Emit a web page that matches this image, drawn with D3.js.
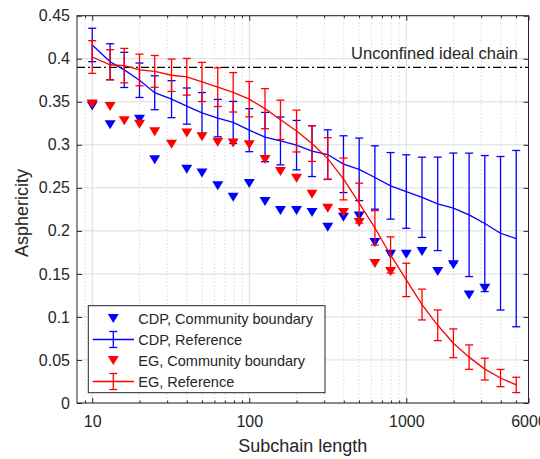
<!DOCTYPE html>
<html>
<head>
<meta charset="utf-8">
<script src="https://cdn.jsdelivr.net/npm/d3@7"></script>
<style>
  body { margin: 0; background: #fff; }
  text { font-family: "Liberation Sans", Arial, sans-serif; fill: #262626; }
</style>
</head>
<body>
<div id="svg-area"></div>
<script>
// subchain lengths (x) shared by all series
var lengths = [10, 13, 16, 20, 25, 32, 40, 50, 63, 79, 100, 126, 158, 200, 251, 316, 398, 501, 631, 794,
  1000, 1259, 1585, 1995, 2512, 3162, 3981, 5012];

// CDP reference: mean + half error bar
var cdpRef = [0.416, 0.3965, 0.387, 0.375, 0.3605, 0.353, 0.345, 0.337, 0.331, 0.326, 0.317, 0.309, 0.3045, 0.2996,
  0.2926, 0.2887, 0.2775, 0.2715, 0.262, 0.2523, 0.2457, 0.239, 0.2314, 0.2264, 0.2186, 0.2085, 0.1972, 0.191];
var cdpErr = [0.0194, 0.0209, 0.0204, 0.020, 0.0197, 0.0215, 0.021, 0.0237, 0.0217, 0.0244, 0.025, 0.0286, 0.0278, 0.0287,
  0.0295, 0.0287, 0.033, 0.0363, 0.0368, 0.0387, 0.0427, 0.0466, 0.0543, 0.064, 0.0717, 0.079, 0.0892, 0.1024];

// EG reference
var egRef = [0.402, 0.393, 0.392, 0.387, 0.3853, 0.3808, 0.379, 0.373, 0.367, 0.361, 0.353, 0.342, 0.329, 0.316,
  0.3015, 0.284, 0.2603, 0.2322, 0.2035, 0.172, 0.143, 0.1144, 0.0903, 0.0694, 0.0533, 0.0394, 0.029, 0.021];
var egErr = [0.019, 0.0175, 0.020, 0.0184, 0.0185, 0.0188, 0.0213, 0.0227, 0.0225, 0.0229, 0.0205, 0.0233, 0.0229, 0.0243,
  0.0208, 0.0243, 0.0243, 0.0232, 0.020, 0.021, 0.0194, 0.0179, 0.0178, 0.0167, 0.0142, 0.0127, 0.010, 0.0089];

// community boundary points (null = no point)
var cdpBoundary = [0.345, 0.3233, null, 0.3297, 0.2826, null, 0.2717, 0.2671, 0.2523, 0.2392, 0.255, 0.234, 0.2236, 0.2236,
  0.2213, 0.2043, 0.2159, 0.2174, 0.1865, 0.1727, 0.1727, 0.176, 0.1527, 0.1605, 0.1256, 0.1333, null, null];
var egBoundary = [0.3474, 0.3445, 0.328, 0.3238, 0.3151, 0.3006, 0.3136, 0.3093, 0.3029, 0.302, 0.300, 0.283, 0.269, 0.2612,
  0.2426, 0.2264, 0.2213, 0.2097, 0.162, 0.1527, null, null, null, null, null, null, null, null];

var idealChain = 0.39;

var xTicks = [10, 100, 1000, 6000];
var xMinorTicks = [9, 20, 30, 40, 50, 60, 70, 80, 90, 200, 300, 400, 500, 600, 700, 800, 900, 2000, 3000, 4000, 5000];
var yTicks = [0, 0.05, 0.1, 0.15, 0.2, 0.25, 0.3, 0.35, 0.4, 0.45];
var yTickLabels = ["0", "0.05", "0.1", "0.15", "0.2", "0.25", "0.3", "0.35", "0.4", "0.45"];

var legendLabels = ["CDP, Community boundary", "CDP, Reference", "EG, Community boundary", "EG, Reference"];

var svgWidth = 540;
var svgHeight = 459;

var margin = {
  top: 15.7,
  right: 11.5,
  bottom: 56,
  left: 77
};

var width = svgWidth - margin.left - margin.right;
var height = svgHeight - margin.top - margin.bottom;

var svg = d3.select("#svg-area")
  .append("svg")
  .attr("width", svgWidth)
  .attr("height", svgHeight);

var chartGroup = svg.append("g")
  .attr("transform", `translate(${margin.left}, ${margin.top})`);

// scales
var xScale = d3.scaleLog().domain([8, 6000]).range([0, width]);
var yScale = d3.scaleLinear().domain([0, 0.45]).range([height, 0]);

// grid
chartGroup.append("g")
  .selectAll("line")
  .data(xMinorTicks)
  .join("line")
  .attr("x1", d => xScale(d)).attr("x2", d => xScale(d))
  .attr("y1", 0).attr("y2", height)
  .attr("stroke", "#bdbdbd")
  .attr("stroke-width", 0.8)
  .attr("stroke-dasharray", "1,2.5");

chartGroup.append("g")
  .selectAll("line")
  .data(xTicks)
  .join("line")
  .attr("x1", d => xScale(d)).attr("x2", d => xScale(d))
  .attr("y1", 0).attr("y2", height)
  .attr("stroke", "#dcdcdc")
  .attr("stroke-width", 1);

chartGroup.append("g")
  .selectAll("line")
  .data(yTicks)
  .join("line")
  .attr("x1", 0).attr("x2", width)
  .attr("y1", d => yScale(d)).attr("y2", d => yScale(d))
  .attr("stroke", "#dcdcdc")
  .attr("stroke-width", 1);

// axes (ticks pointing inward, mirrored on top/right)
var bottomAxis = d3.axisBottom(xScale).tickValues(xTicks).tickSizeInner(-5).tickSizeOuter(0)
  .tickPadding(12.5).tickFormat(d3.format("d"));
var bottomMinor = d3.axisBottom(xScale).tickValues(xMinorTicks).tickSizeInner(-2.5).tickSizeOuter(0).tickFormat("");
var topAxis = d3.axisTop(xScale).tickValues(xTicks).tickSizeInner(-5).tickSizeOuter(0).tickFormat("");
var topMinor = d3.axisTop(xScale).tickValues(xMinorTicks).tickSizeInner(-2.5).tickSizeOuter(0).tickFormat("");
var leftAxis = d3.axisLeft(yScale).tickValues(yTicks).tickSizeInner(-5).tickSizeOuter(0)
  .tickPadding(7).tickFormat((d, i) => yTickLabels[i]);
var rightAxis = d3.axisRight(yScale).tickValues(yTicks).tickSizeInner(-5).tickSizeOuter(0).tickFormat("");

function styleAxis(g) {
  g.select(".domain").remove();
  g.selectAll("line").attr("stroke", "#262626");
  g.selectAll("text").attr("fill", "#262626").style("font-size", "16px")
    .style("font-family", "'Liberation Sans', Arial, sans-serif");
}

chartGroup.append("g").attr("transform", `translate(0, ${height})`).call(bottomAxis).call(styleAxis);
chartGroup.append("g").attr("transform", `translate(0, ${height})`).call(bottomMinor).call(styleAxis);
chartGroup.append("g").call(topAxis).call(styleAxis);
chartGroup.append("g").call(topMinor).call(styleAxis);
chartGroup.append("g").call(leftAxis).call(styleAxis);
chartGroup.append("g").attr("transform", `translate(${width}, 0)`).call(rightAxis).call(styleAxis);

// ideal chain reference
chartGroup.append("line")
  .attr("x1", 0).attr("x2", width)
  .attr("y1", yScale(idealChain)).attr("y2", yScale(idealChain))
  .attr("stroke", "#000")
  .attr("stroke-width", 1.1)
  .attr("stroke-dasharray", "8,3,2,3");

chartGroup.append("text")
  .attr("x", 441)
  .attr("y", 43.6)
  .attr("text-anchor", "end")
  .style("font-size", "16.5px")
  .attr("fill", "#000")
  .text("Unconfined ideal chain");

// data rows
var rows = lengths.map((n, i) => ({
  n: n,
  cdp: cdpRef[i], cdpE: cdpErr[i],
  eg: egRef[i], egE: egErr[i],
  cdpB: cdpBoundary[i], egB: egBoundary[i]
}));

var triPath = "M-5.5,-4.5L5.5,-4.5L0,4.5Z";

function drawTriangles(key, color) {
  chartGroup.append("g")
    .selectAll("path")
    .data(rows.filter(d => d[key] !== null))
    .join("path")
    .attr("d", triPath)
    .attr("transform", d => `translate(${xScale(d.n)}, ${yScale(d[key])})`)
    .attr("fill", color);
}

function drawReference(key, errKey, color) {
  var g = chartGroup.append("g");
  var line = d3.line().x(d => xScale(d.n)).y(d => yScale(d[key]));
  g.append("path")
    .datum(rows)
    .attr("d", line)
    .attr("fill", "none")
    .attr("stroke", color)
    .attr("stroke-width", 1.3);
  var bars = g.selectAll("g.bar")
    .data(rows)
    .join("g")
    .attr("class", "bar")
    .attr("stroke", color)
    .attr("stroke-width", 1.3);
  bars.append("line")
    .attr("x1", d => xScale(d.n)).attr("x2", d => xScale(d.n))
    .attr("y1", d => yScale(d[key] - d[errKey])).attr("y2", d => yScale(d[key] + d[errKey]));
  bars.append("line")
    .attr("x1", d => xScale(d.n) - 4).attr("x2", d => xScale(d.n) + 4)
    .attr("y1", d => yScale(d[key] + d[errKey])).attr("y2", d => yScale(d[key] + d[errKey]));
  bars.append("line")
    .attr("x1", d => xScale(d.n) - 4).attr("x2", d => xScale(d.n) + 4)
    .attr("y1", d => yScale(d[key] - d[errKey])).attr("y2", d => yScale(d[key] - d[errKey]));
}

drawTriangles("cdpB", "#0000ff");
drawReference("cdp", "cdpE", "#0000ff");
drawTriangles("egB", "#ff0000");
drawReference("eg", "egE", "#ff0000");

// box
chartGroup.append("rect")
  .attr("width", width)
  .attr("height", height)
  .attr("fill", "none")
  .attr("stroke", "#262626")
  .attr("stroke-width", 1);

// axis labels
svg.append("text")
  .attr("transform", `translate(${margin.left + width / 2}, 452)`)
  .attr("text-anchor", "middle")
  .style("font-size", "18px")
  .text("Subchain length");

svg.append("text")
  .attr("transform", "translate(28, 213) rotate(-90)")
  .attr("text-anchor", "middle")
  .style("font-size", "18px")
  .text("Asphericity");

// legend
var legend = svg.append("g").attr("transform", "translate(88.3, 305.7)");
legend.append("rect")
  .attr("width", 236.7)
  .attr("height", 87)
  .attr("fill", "#fff")
  .attr("stroke", "#262626")
  .attr("stroke-width", 1);

var legendColors = ["#0000ff", "#0000ff", "#ff0000", "#ff0000"];
legendLabels.forEach((label, i) => {
  var cy = 12.8 + i * 21;
  var item = legend.append("g").attr("transform", `translate(0, ${cy})`);
  if (i % 2 === 0) {
    item.append("path")
      .attr("d", triPath)
      .attr("transform", "translate(25, 0)")
      .attr("fill", legendColors[i]);
  } else {
    var s = item.append("g").attr("stroke", legendColors[i]).attr("stroke-width", 1.3);
    s.append("line").attr("x1", 4.4).attr("x2", 45.7).attr("y1", 0).attr("y2", 0);
    s.append("line").attr("x1", 25).attr("x2", 25).attr("y1", -8).attr("y2", 8);
    s.append("line").attr("x1", 21).attr("x2", 29).attr("y1", -8).attr("y2", -8);
    s.append("line").attr("x1", 21).attr("x2", 29).attr("y1", 8).attr("y2", 8);
  }
  item.append("text")
    .attr("x", 50)
    .attr("y", 5.2)
    .style("font-size", "14.5px")
    .attr("fill", "#000")
    .text(label);
});
</script>
</body>
</html>
